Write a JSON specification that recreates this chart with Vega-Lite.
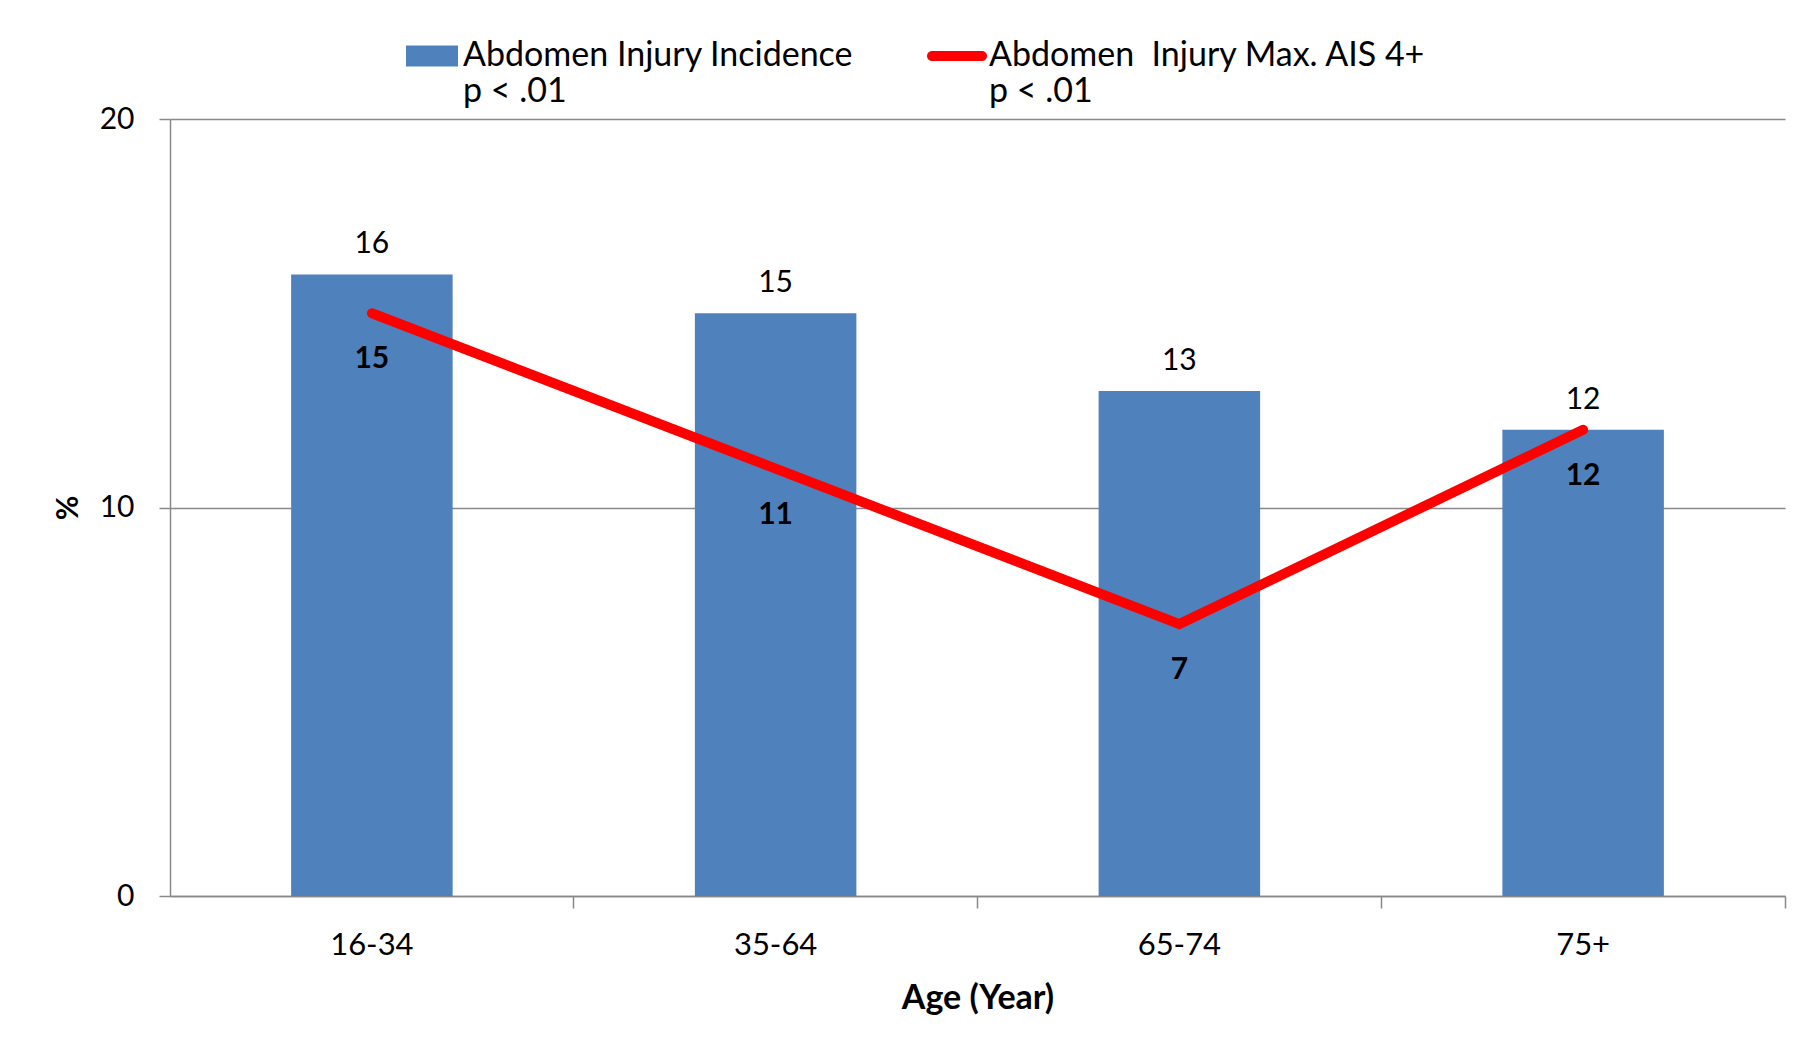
{
  "$schema": "https://vega.github.io/schema/vega-lite/v6.json",
  "width": 1615,
  "height": 777,
  "autosize": {"type": "none"},
  "padding": {"left": 170, "top": 119, "right": 32, "bottom": 154},
  "background": "white",
  "config": {
    "font": "Lato",
    "view": {"stroke": null},
    "axisY": {
      "grid": true,
      "gridColor": "#898989",
      "gridWidth": 1.5,
      "domainColor": "#898989",
      "domainWidth": 1.5,
      "tickColor": "#898989",
      "tickWidth": 1.5,
      "tickSize": 11,
      "labelPadding": 25,
      "labelFontSize": 30,
      "labelColor": "black",
      "titleFontSize": 30,
      "titleFontWeight": "bold",
      "titleColor": "black",
      "titlePadding": 16
    },
    "axisX": {
      "labelAngle": 0,
      "grid": false,
      "bandPosition": 1.75,
      "domainColor": "#898989",
      "domainWidth": 1.5,
      "tickColor": "#898989",
      "tickWidth": 1.5,
      "tickSize": 12,
      "labelPadding": 22,
      "labelFontSize": 31,
      "labelColor": "black",
      "titleFontSize": 34,
      "titleFontWeight": "bold",
      "titleColor": "black",
      "titlePadding": 21
    },
    "legend": {
      "orient": "none",
      "padding": 0,
      "labelFontSize": 34,
      "labelColor": "black",
      "labelLimit": 800,
      "labelBaseline": "middle",
      "title": null
    }
  },
  "data": {
    "values": [
      {"age": "16-34", "incidence": 16, "max_ais4": 15},
      {"age": "35-64", "incidence": 15, "max_ais4": 11},
      {"age": "65-74", "incidence": 13, "max_ais4": 7},
      {"age": "75+", "incidence": 12, "max_ais4": 12}
    ]
  },
  "encoding": {
    "x": {
      "field": "age",
      "type": "nominal",
      "sort": null,
      "title": "Age (Year)",
      "scale": {"paddingInner": 0.6, "paddingOuter": 0.3}
    }
  },
  "layer": [
    {
      "mark": {"type": "bar"},
      "encoding": {
        "y": {"field": "incidence", "type": "quantitative", "title": "%", "scale": {"domain": [0, 20]}, "axis": {"values": [0, 10, 20]}},
        "fill": {
          "datum": "Abdomen Injury Incidence",
          "scale": {"range": ["#4F81BD"]},
          "legend": {
            "legendX": 236,
            "legendY": -89,
            "symbolType": "M-1,-0.4H1V0.4H-1Z",
            "symbolSize": 2704,
            "symbolStrokeWidth": 0,
            "labelOffset": 5,
            "labelExpr": "[datum.label, '\u00a0p < .01']"
          }
        }
      }
    },
    {
      "mark": {"type": "text", "baseline": "alphabetic", "dy": -21, "fontSize": 30, "color": "black"},
      "encoding": {
        "y": {"field": "incidence", "type": "quantitative", "title": "%", "axis": {"values": [0, 10, 20]}},
        "text": {"field": "incidence", "type": "quantitative"}
      }
    },
    {
      "mark": {"type": "line", "strokeWidth": 10, "strokeCap": "round"},
      "encoding": {
        "y": {"field": "max_ais4", "type": "quantitative", "title": "%", "axis": {"values": [0, 10, 20]}},
        "stroke": {
          "datum": "Abdomen\u00a0 Injury Max. AIS 4+",
          "scale": {"range": ["#FF0000"]},
          "legend": {
            "legendX": 757,
            "legendY": -93,
            "symbolType": "M-0.8333,-0.1667H0.8333A0.1667,0.1667 0 0 1 0.8333,0.1667H-0.8333A0.1667,0.1667 0 0 1 -0.8333,-0.1667Z",
            "symbolSize": 3600,
            "symbolFillColor": "#FF0000",
            "symbolStrokeWidth": 0,
            "labelOffset": 2,
            "labelExpr": "[datum.label, '\u00a0p < .01']"
          }
        }
      }
    },
    {
      "mark": {"type": "text", "baseline": "alphabetic", "dy": 55, "fontSize": 30, "fontWeight": "bold", "color": "black"},
      "encoding": {
        "y": {"field": "max_ais4", "type": "quantitative", "title": "%", "axis": {"values": [0, 10, 20]}},
        "text": {"field": "max_ais4", "type": "quantitative"}
      }
    }
  ]
}
